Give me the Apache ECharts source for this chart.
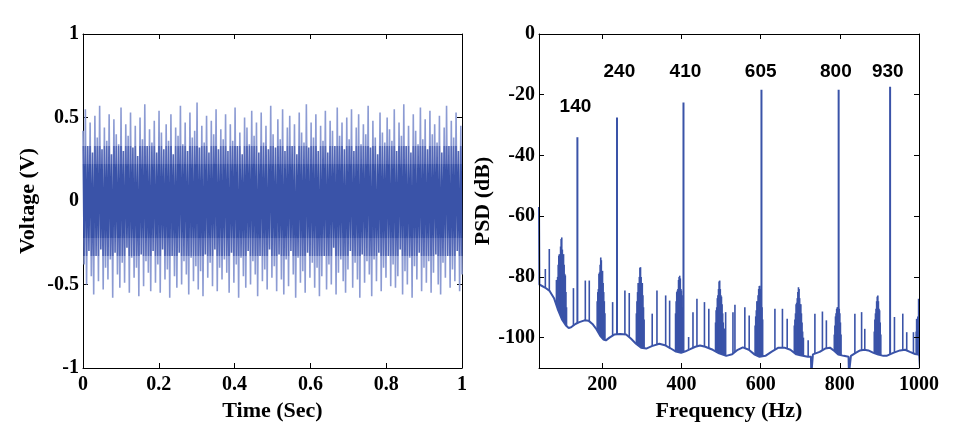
<!DOCTYPE html>
<html>
<head>
<meta charset="utf-8">
<script src="https://cdn.jsdelivr.net/npm/echarts@6/dist/echarts.min.js"></script>
<style>
  html, body { margin: 0; background: #fff; }
  #chart { width: 976px; height: 432px; }
</style>
</head>
<body>
<div id="chart"></div>
<script>
// time signal: positive / negative swings
var timeUpper = [
  0.42,0.55,0.33,0.47,0.29,0.51,0.38,0.57,0.31,0.44,
  0.36,0.52,0.28,0.49,0.40,0.34,0.56,0.30,0.46,0.39,
  0.53,0.32,0.45,0.27,0.50,0.37,0.58,0.33,0.43,0.35,
  0.48,0.29,0.54,0.41,0.31,0.46,0.36,0.52,0.28,0.44,
  0.39,0.57,0.34,0.47,0.30,0.53,0.38,0.42,0.59,0.32,
  0.45,0.35,0.51,0.29,0.48,0.40,0.55,0.31,0.43,0.37,
  0.52,0.30,0.46,0.36,0.56,0.33,0.41,0.28,0.50,0.44,
  0.34,0.54,0.39,0.47,0.29,0.53,0.35,0.45,0.31,0.57,
  0.40,0.32,0.49,0.37,0.55,0.30,0.44,0.51,0.33,0.46,
  0.28,0.53,0.41,0.35,0.58,0.32,0.47,0.38,0.52,0.30,
  0.45,0.36,0.54,0.29,0.48,0.42,0.33,0.56,0.39,0.47,
  0.31,0.50,0.37,0.55,0.30,0.44,0.52,0.34,0.46,0.40,
  0.57,0.32,0.48,0.38,0.28,0.53,0.41,0.35,0.50,0.43,
  0.36,0.55,0.30,0.47,0.39,0.58,0.33,0.45,0.29,0.52,
  0.42,0.34,0.56,0.37,0.49,0.31,0.54,0.40,0.46,0.35,
  0.51,0.29,0.44,0.57,0.33,0.48,0.38,0.53,0.30,0.45
];
var timeLower = [
  -0.38,-0.50,-0.30,-0.45,-0.56,-0.33,-0.48,-0.29,-0.53,-0.40,
  -0.47,-0.35,-0.58,-0.31,-0.44,-0.52,-0.37,-0.49,-0.28,-0.55,
  -0.34,-0.46,-0.40,-0.57,-0.32,-0.51,-0.36,-0.43,-0.54,-0.30,
  -0.49,-0.38,-0.55,-0.29,-0.47,-0.41,-0.58,-0.33,-0.45,-0.52,
  -0.31,-0.50,-0.36,-0.44,-0.56,-0.34,-0.48,-0.39,-0.53,-0.42,
  -0.57,-0.32,-0.46,-0.37,-0.51,-0.29,-0.54,-0.40,-0.47,-0.35,
  -0.43,-0.55,-0.31,-0.49,-0.38,-0.58,-0.34,-0.45,-0.52,-0.30,
  -0.50,-0.36,-0.44,-0.57,-0.33,-0.48,-0.41,-0.53,-0.29,-0.46,
  -0.39,-0.54,-0.32,-0.47,-0.56,-0.35,-0.51,-0.30,-0.44,-0.58,
  -0.34,-0.49,-0.42,-0.55,-0.31,-0.46,-0.37,-0.52,-0.40,-0.57,
  -0.45,-0.33,-0.53,-0.38,-0.50,-0.28,-0.56,-0.43,-0.35,-0.48,
  -0.55,-0.41,-0.30,-0.52,-0.37,-0.47,-0.58,-0.32,-0.49,-0.36,
  -0.44,-0.57,-0.35,-0.48,-0.31,-0.54,-0.40,-0.46,-0.33,-0.51,
  -0.38,-0.52,-0.45,-0.29,-0.56,-0.42,-0.50,-0.34,-0.58,-0.39,
  -0.47,-0.31,-0.54,-0.40,-0.49,-0.36,-0.55,-0.43,-0.32,-0.50,
  -0.56,-0.37,-0.46,-0.33,-0.52,-0.41,-0.48,-0.30,-0.54,-0.44
];

// PSD noise floor [Hz, dB]
var psdFloor = [
  [40,-57],[41,-82.5],[55,-83.5],[66,-84.5],[78,-87],[87,-90.5],[98,-94],[108,-96],
  [115,-96.8],[121,-96.6],[132,-95.5],[142,-94.9],[155,-94.3],[165,-94.4],[175,-95.5],
  [184,-97],[195,-99.5],[203,-100.6],[209,-100.9],[218,-100],[230,-99],[245,-98.8],
  [260,-99],[272,-100.3],[285,-102],[298,-103.3],[311,-103.6],[325,-102.8],[344,-102],
  [358,-102.5],[372,-103.5],[386,-104.6],[399,-105],[410,-104.5],[422,-103.8],[435,-103],
  [447,-102.6],[460,-103],[479,-104],[495,-105.2],[513,-106],[528,-105.5],[542,-104],
  [555,-103.2],[570,-104],[585,-105.6],[597,-106.3],[612,-106],[628,-104.6],[645,-103.3],
  [660,-103.3],[675,-104],[690,-105.5],[700,-105.8],[719,-106.3],[727,-106.3],[728,-112],
  [731,-112],[732,-105.5],[749,-104.7],[763,-103.6],[775,-103.3],[787,-104.5],[796,-105.6],
  [810,-106],[822,-106.3],[823,-112],[827,-112],[828,-106],[840,-105],[851,-104.2],
  [862,-104],[872,-104.2],[885,-105],[897,-105.6],[910,-106],[918,-106],[935,-105],
  [952,-104.2],[965,-104],[977,-104.7],[990,-105.4],[998,-105.6],[1000,-105.6]
];

// isolated small spikes [Hz, dB]
var psdSpikes = [
  [56,-77.4],[66,-70.8],[127,-83.7],[157,-81.2],[167,-81.2],[226,-88.3],[257,-84.5],
  [268,-85.3],[326,-92.1],[338,-84.5],[360,-86.1],[370,-87.8],[418,-99.8],[429,-91.6],
  [439,-87.2],[458,-88.3],[469,-90.5],[511.5,-91.6],[530,-91.6],[535,-89.2],[560,-90],
  [571,-92.7],[636,-90.5],[655,-90.5],[667,-93.8],[720,-100.9],[737,-92.1],[756,-91.4],
  [766,-94.3],[838,-92.1],[855,-91.6],[863,-97.1],[938,-93.2],[959,-92.1],[969,-98.2],
  [986,-98.2],[994,-93.8]
];

// harmonic clusters around every 100 Hz [Hz, dB]
var psdClusters = [
  [84,-81],[85.5,-83],[87,-80],[88.5,-76],[90,-73],[91.5,-72.5],[93,-74],[94.5,-70],[96,-67.5],
  [97.5,-67],[99,-71],[100.5,-73],[102,-72.5],[103.5,-76],[105,-79],[106.5,-79.5],[108,-85],[109.5,-90],
  [187,-88],[188.5,-85],[190,-84],[191.5,-79],[193,-78.5],[194.5,-76],[196,-73.6],[197.5,-74.5],
  [199,-78.5],[200.5,-78],[202,-82],[203.5,-85],[205,-88],[206.5,-92],
  [286,-92],[287.5,-88],[289,-85],[290.5,-82],[292,-82],[293.5,-80],[295,-77],[296.5,-76.8],
  [298,-80],[299.5,-82],[301,-82],[302.5,-86],[304,-90],[305.5,-94],
  [385,-92],[386.5,-88],[388,-85],[389.5,-84.5],[391,-84],[392.5,-81],[394,-80],[395.5,-79.6],
  [397,-80.5],[398.5,-84],[400,-84.5],[401.5,-86],[403,-90],
  [486,-95],[487.5,-91],[489,-90],[490.5,-87],[492,-86],[493.5,-84],[495,-81.5],[496.5,-81.2],
  [498,-84],[499.5,-86],[501,-86.5],[502.5,-89],[504,-92],[505.5,-95],[508,-97],
  [586,-96],[587.5,-93],[589,-91],[590.5,-88],[592,-88],[593.5,-86],[595,-84],[596.5,-83],
  [598,-82.9],[599.5,-84],[601,-88],[603.5,-90],[605,-94],
  [685,-96],[686.5,-94],[688,-92],[689.5,-89],[691,-88.5],[692.5,-87],[694,-85],[695.5,-83.4],
  [697,-84],[698.5,-87],[700,-89],[701.5,-89],[703,-92],[704.5,-95],[706,-98],[708,-100],
  [786,-99],[787.5,-96],[789,-93],[790.5,-92],[792,-90.5],[793.5,-90],[795,-90],[796.5,-91],
  [798.5,-90.5],[800,-92],[801.5,-95],[803,-99],
  [887,-98],[888.5,-94],[890,-92],[891.5,-90.5],[893,-88],[894.5,-86.5],[896,-86.1],[897.5,-88],
  [899,-90.5],[900.5,-91],[902,-95],[903.5,-99],
  [993,-98],[995,-96],[997,-93],[999,-87.2]
];

// main tones
var peakFreq = [137, 237, 405, 602, 797, 927];
var peakDb = [-34, -27.5, -22.6, -18.4, -18.4, -17.4];
var peakLabels = ['140', '240', '410', '605', '800', '930'];

var freqTicks = [200, 400, 600, 800, 1000];
var psdTicks = [-100, -80, -60, -40, -20, 0];
var PSD_MIN = -110;

// build the time series (alternating swings)
var n = timeUpper.length * 2;
var signal = [];
timeUpper.forEach(function (v, i) {
  signal.push([(2 * i) / (n - 1), v]);
  signal.push([(2 * i + 1) / (n - 1), timeLower[i]]);
});

var blue = '#3a53a8';
var midBlue = '#5468b6';
var paleBlue = '#8c9bd3';
var serif = 'Liberation Serif';
var tick = { show: true, inside: true, length: 5, lineStyle: { color: '#000' } };
var lab = { fontFamily: serif, fontWeight: 'bold', fontSize: 20, color: '#000' };
var nameTs = { fontFamily: serif, fontWeight: 'bold', fontSize: 22, color: '#000' };
var line = { onZero: false, lineStyle: { color: '#000', width: 1 } };
var plain = function (v) { return String(v); };

function spikeRender(width) {
  return function (params, api) {
    var f = api.value(0);
    var p0 = api.coord([f, PSD_MIN]);
    var p1 = api.coord([f, api.value(1)]);
    return {
      type: 'line',
      shape: { x1: p0[0], y1: p0[1], x2: p1[0], y2: p1[1] },
      style: { stroke: blue, lineWidth: width }
    };
  };
}

var myChart = echarts.init(document.getElementById('chart'));
var option = {
  animation: false,
  backgroundColor: '#fff',
  grid: [
    { left: 83, top: 34, width: 379, height: 334 },
    { left: 539, top: 34, width: 380, height: 334 }
  ],
  // dark dense core, paler swings beyond it
  visualMap: {
    show: false, type: 'piecewise', seriesIndex: 0, dimension: 1,
    pieces: [
      { lt: -0.33, color: paleBlue },
      { gte: -0.33, lt: -0.22, color: midBlue },
      { gte: -0.22, lte: 0.22, color: blue },
      { gt: 0.22, lte: 0.33, color: midBlue },
      { gt: 0.33, color: paleBlue }
    ]
  },
  xAxis: [
    { gridIndex: 0, type: 'value', min: 0, max: 1, interval: 0.2,
      axisLine: line, axisTick: tick, splitLine: { show: false },
      axisLabel: Object.assign({ margin: 7 }, lab),
      name: 'Time (Sec)', nameLocation: 'middle', nameGap: 30, nameTextStyle: nameTs },
    { gridIndex: 0, type: 'value', position: 'top', min: 0, max: 1, interval: 0.2,
      axisLine: line, axisTick: tick, splitLine: { show: false }, axisLabel: { show: false } },
    { gridIndex: 1, type: 'value', min: 40, max: 1000, z: 10,
      axisLine: line, axisTick: Object.assign({ customValues: freqTicks }, tick), splitLine: { show: false },
      axisLabel: Object.assign({ margin: 7, customValues: freqTicks, formatter: plain }, lab),
      name: 'Frequency (Hz)', nameLocation: 'middle', nameGap: 30, nameTextStyle: nameTs },
    { gridIndex: 1, type: 'value', position: 'top', min: 40, max: 1000, z: 10,
      axisLine: line, axisTick: Object.assign({ customValues: freqTicks }, tick),
      splitLine: { show: false }, axisLabel: { show: false } }
  ],
  yAxis: [
    { gridIndex: 0, type: 'value', min: -1, max: 1, interval: 0.5,
      axisLine: line, axisTick: tick, splitLine: { show: false },
      axisLabel: Object.assign({ margin: 4 }, lab),
      name: 'Voltage (V)', nameLocation: 'middle', nameGap: 44, nameRotate: 90, nameTextStyle: nameTs },
    { gridIndex: 0, type: 'value', position: 'right', min: -1, max: 1, interval: 0.5,
      axisLine: line, axisTick: tick, splitLine: { show: false }, axisLabel: { show: false } },
    { gridIndex: 1, type: 'value', min: PSD_MIN, max: 0, z: 10,
      axisLine: line, axisTick: Object.assign({ customValues: psdTicks }, tick), splitLine: { show: false },
      axisLabel: Object.assign({ margin: 4, customValues: psdTicks }, lab),
      name: 'PSD (dB)', nameLocation: 'middle', nameGap: 33, nameRotate: 90, nameTextStyle: nameTs },
    { gridIndex: 1, type: 'value', position: 'right', min: PSD_MIN, max: 0, z: 10,
      axisLine: line, axisTick: Object.assign({ customValues: psdTicks }, tick),
      splitLine: { show: false }, axisLabel: { show: false } }
  ],
  series: [
    { type: 'line', xAxisIndex: 0, yAxisIndex: 0, data: signal, showSymbol: false,
      lineStyle: { width: 1.6 } },
    { type: 'custom', xAxisIndex: 2, yAxisIndex: 2, data: psdSpikes.concat(psdClusters),
      encode: { x: 0, y: 1 }, renderItem: spikeRender(1.6), z: 2 },
    { type: 'custom', xAxisIndex: 2, yAxisIndex: 2,
      data: peakFreq.map(function (f, i) { return [f, peakDb[i]]; }),
      encode: { x: 0, y: 1 }, renderItem: spikeRender(2), z: 2 },
    // noise floor, white underneath so the spikes start from it
    { type: 'line', xAxisIndex: 2, yAxisIndex: 2, data: psdFloor, showSymbol: false, z: 3,
      lineStyle: { color: blue, width: 2 },
      areaStyle: { color: '#fff', opacity: 1, origin: 'start' } },
    // tone labels
    { type: 'scatter', xAxisIndex: 2, yAxisIndex: 2, symbolSize: 0, z: 4, silent: true,
      itemStyle: { opacity: 1 },
      data: [[132, -24], [243, -12.5], [410, -12.5], [600, -12.5], [790, -12.5], [921, -12.5]]
        .map(function (p, i) { return { value: p, name: peakLabels[i] }; }),
      label: { show: true, position: 'inside', formatter: '{b}', textBorderWidth: 0,
        fontFamily: 'Liberation Sans', fontWeight: 'bold', fontSize: 19, color: '#000' } }
  ]
};
myChart.setOption(option);
</script>
</body>
</html>
